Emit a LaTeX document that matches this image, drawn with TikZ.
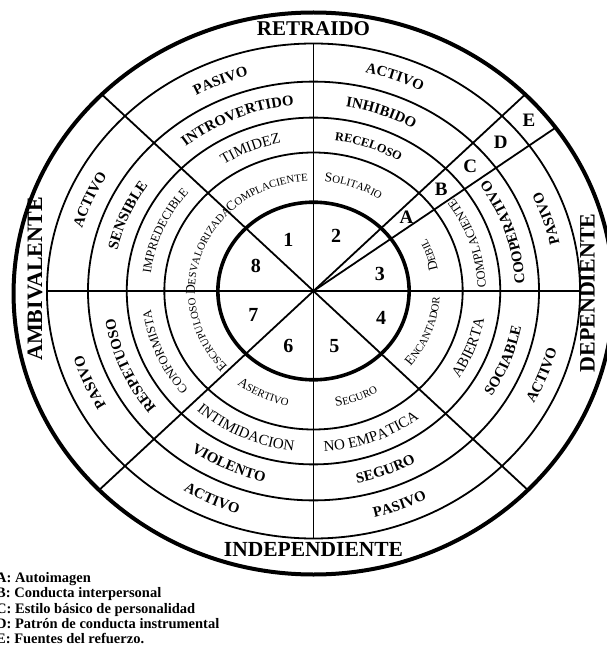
\documentclass[tikz,border=0pt]{standalone}
\usepackage{fontspec}
\setmainfont{Liberation Serif}
\usetikzlibrary{decorations.text}

\newcommand{\bandbold}{\bfseries\fontsize{14.8}{14.8}\selectfont}
\newcommand{\bandsmall}{\bfseries\fontsize{12.3}{12.3}\selectfont}
\newcommand{\bandreg}{\fontsize{15}{15}\selectfont}
\newcommand{\bandthin}{\fontsize{12.5}{12.5}\selectfont}
\newcommand{\capbig}{\fontsize{13.5}{13.5}\selectfont}
\newcommand{\capsmall}{\fontsize{10.8}{10.8}\selectfont}

% text that follows a ring, read clockwise / counter-clockwise
\newcommand{\cwtext}[3]{\path[decorate,decoration={text along path,text align=center,text={#3}}]
  ({#1+40}:#2) arc[start angle={#1+40},end angle={#1-40},radius=#2];}
\newcommand{\ccwtext}[3]{\path[decorate,decoration={text along path,text align=center,text={#3}}]
  ({#1-40}:#2) arc[start angle={#1-40},end angle={#1+40},radius=#2];}

\tikzset{
  ring/.style={line width=1.8pt},
  rim/.style={line width=4pt},
  core/.style={line width=3.6pt},
  spoke/.style={line width=1.8pt},
  polelabel/.style={font=\bfseries\fontsize{21}{21}\selectfont,inner sep=0pt},
  sidelabel/.style={font=\bfseries\fontsize{22}{22}\selectfont,inner sep=0pt,rotate=90},
  sectornum/.style={font=\bfseries\fontsize{20}{20}\selectfont,inner sep=0pt},
  wedgeletter/.style={font=\bfseries\fontsize{19}{19}\selectfont,inner sep=0pt},
  legendline/.style={font=\bfseries\fontsize{14.5}{14.5}\selectfont,anchor=base west,inner sep=0pt},
}

\begin{document}
\begin{tikzpicture}[x=1.077pt,y=1pt]
\useasboundingbox (-291.09,-357) rectangle (271.59,291);

% rings
\draw[rim] (0,-2.5) ellipse[x radius=278.5,y radius=281];
\draw[ring] (0,0) circle[radius=247.5];
\draw[ring] (0,0) circle[radius=209.4];
\draw[ring] (0,0) circle[radius=173.4];
\draw[ring] (0,0) circle[radius=138.5];

% spokes
\coordinate (o) at (0,0);
\coordinate (n) at (90:247.5);
\coordinate (s) at (270:247.5);
\coordinate (w) at (180:247.5);
\coordinate (e) at (0:247.5);
\coordinate (ne) at (45:279.5);
\coordinate (nw) at (135:279.5);
\coordinate (sw) at (225:280.5);
\coordinate (se) at (315:280.5);
\coordinate (wedge) at (36:279.5);
\draw[spoke] (n) -- (s);
\draw[spoke] (w) -- (e);
\draw[spoke] (ne) -- (sw);
\draw[spoke] (nw) -- (se);
\draw[spoke] (o) -- (wedge);
\draw[core] (o) circle[radius=88.8];

% poles
\node[polelabel] (retraido) at (0,262.7) {RETRAIDO};
\node[polelabel,font=\bfseries\fontsize{21.5}{21.5}\selectfont] (independiente) at (0,-258.5) {INDEPENDIENTE};
\node[sidelabel] (ambivalente) at (-258.6,12) {AMBIVALENTE};
\node[sidelabel] (dependiente) at (254.4,-2) {DEPENDIENTE};

% sectors
\node[sectornum] (s1) at (-23.4,51) {1};
\node[sectornum] (s2) at (20.9,55) {2};
\node[sectornum] (s3) at (61.7,17) {3};
\node[sectornum] (s4) at (62.7,-27.3) {4};
\node[sectornum] (s5) at (19.3,-54.7) {5};
\node[sectornum] (s6) at (-23.4,-54.7) {6};
\node[sectornum] (s7) at (-55.9,-24) {7};
\node[sectornum] (s8) at (-53.4,25) {8};

% wedge letters
\node[wedgeletter] (la) at (40.5:113.6) {A};
\node[wedgeletter] (lb) at (40.5:156) {B};
\node[wedgeletter] (lc) at (40.5:191.4) {C};
\node[wedgeletter] (ld) at (40.5:228.5) {D};
\node[wedgeletter] (le) at (40.5:263) {E};

% sector 1
\cwtext{113}{223.7}{|\bandbold|PASIVO}
\cwtext{113}{186.6}{|\bandbold|INTROVERTIDO}
\cwtext{113}{151}{|\bandreg|TIMIDEZ}
\cwtext{114}{110}{|\capbig|C|\capsmall|OMPLACIENTE}
% sector 2
\cwtext{70}{223.7}{|\bandbold|ACTIVO}
\cwtext{70}{186.6}{|\bandbold|INHIBIDO}
\cwtext{70}{152}{|\bandsmall|RECELOSO}
\cwtext{70}{110}{|\capbig|S|\capsmall|OLITARIO}
% sector 3
\ccwtext{18}{233.3}{|\bandbold|PASIVO}
\ccwtext{18}{196.2}{|\bandbold|COOPERATIVO}
\ccwtext{18}{160}{|\bandthin|COMPLACIENTE}
\ccwtext{18}{117.3}{|\capbig|D|\capsmall|EBIL}
% sector 4
\ccwtext{-21}{233.3}{|\bandbold|ACTIVO}
\ccwtext{-21}{196.2}{|\bandbold|SOCIABLE}
\ccwtext{-21}{161}{|\bandreg|ABIERTA}
\ccwtext{-21}{117.3}{|\capbig|E|\capsmall|NCANTADOR}
% sector 5
\ccwtext{291}{233.3}{|\bandbold|PASIVO}
\ccwtext{291}{196.2}{|\bandbold|SEGURO}
\ccwtext{291}{161}{|\bandreg|NO EMPATICA}
\ccwtext{291}{117.3}{|\capbig|S|\capsmall|EGURO}
% sector 6
\ccwtext{245}{233.3}{|\bandbold|ACTIVO}
\ccwtext{245}{196.2}{|\bandbold|VIOLENTO}
\ccwtext{245}{161}{|\bandreg|INTIMIDACION}
\ccwtext{245}{117.3}{|\capbig|A|\capsmall|SERTIVO}
% sector 7
\cwtext{203}{223.7}{|\bandbold|PASIVO}
\cwtext{203}{186.6}{|\bandbold|RESPETUOSO}
\cwtext{203}{152}{|\bandthin|CONFORMISTA}
\cwtext{203}{110}{|\capbig|E|\capsmall|SCRUPULOSO}
% sector 8
\cwtext{157}{223.7}{|\bandbold|ACTIVO}
\cwtext{157}{186.6}{|\bandbold|SENSIBLE}
\cwtext{157}{152}{|\bandthin|IMPREDECIBLE}
\cwtext{158.5}{110}{|\capbig|D|\capsmall|ESVALORIZADA}

% legend
\node[legendline] (legA) at (-294.8,-291.7) {A: Autoimagen};
\node[legendline] (legB) at (-294.8,-306.9) {B: Conducta interpersonal};
\node[legendline] (legC) at (-294.8,-322) {C: Estilo básico de personalidad};
\node[legendline] (legD) at (-294.8,-337.1) {D: Patrón de conducta instrumental};
\node[legendline] (legE) at (-294.8,-352.2) {E: Fuentes del refuerzo.};
\end{tikzpicture}
\end{document}
